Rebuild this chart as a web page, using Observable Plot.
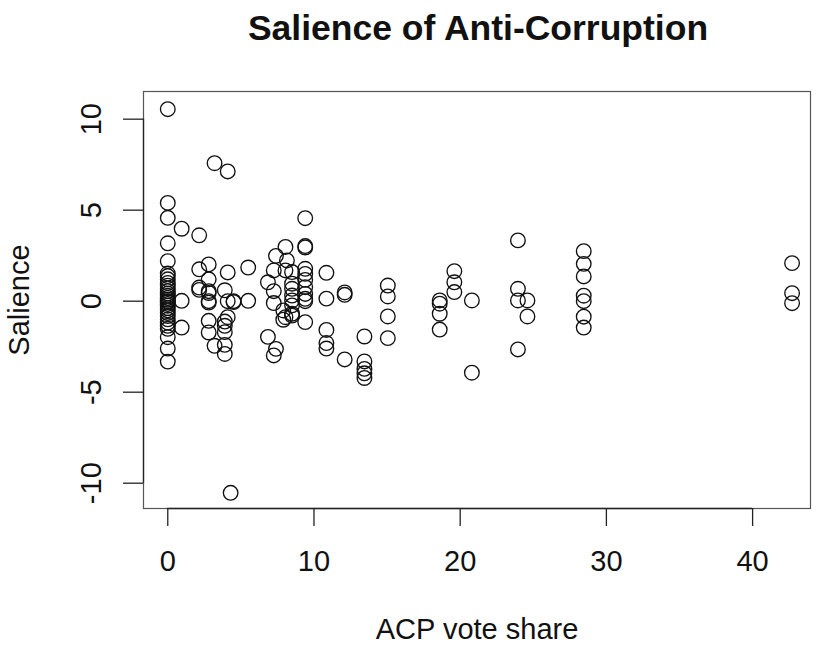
<!DOCTYPE html>
<html>
<head>
<meta charset="utf-8">
<script src="https://cdn.jsdelivr.net/npm/d3@7"></script>
<script src="https://cdn.jsdelivr.net/npm/@observablehq/plot@0.6"></script>
<style>
  html, body { margin: 0; padding: 0; background: #fff; }
  #wrap { width: 819px; height: 646px; position: relative; font-family: "Liberation Sans", Arial, Helvetica, sans-serif; }
  #title { position: absolute; left: 0; top: 10px; width: 819px; padding-left: 137px; box-sizing: border-box; text-align: center;
           font-size: 35.5px; line-height: 36px; font-weight: bold; color: #111; }
  #chart { position: absolute; left: 0; top: 60px; }
  #chart svg { overflow: visible; }
</style>
</head>
<body>
<div id="wrap">
  <div id="title">Salience of Anti-Corruption</div>
  <div id="chart"></div>
</div>
<script>
// ---- data ----
const titleText = "Salience of Anti-Corruption";
const xLabel = "ACP vote share";
const yLabel = "Salience";
const xTicks = [0, 10, 20, 30, 40];
const yTicks = [-10, -5, 0, 5, 10];

// vote share groups and the salience values observed at each
const voteShare = [
  0, 0, 0, 0, 0, 0, 0, 0, 0, 0, 0, 0, 0, 0, 0, 0, 0, 0, 0, 0, 0, 0, 0, 0, 0, 0, 0, 0, 0, 0, 0,
  0.95, 0.95, 0.95,
  2.15, 2.15, 2.15, 2.15,
  2.8, 2.8, 2.8, 2.8, 2.8, 2.8, 2.8, 2.8,
  3.2, 3.2,
  3.9, 3.9, 3.9, 3.9, 3.9, 3.9,
  4.1, 4.1, 4.1, 4.1,
  4.3,
  4.5, 4.5,
  5.5, 5.5,
  6.85, 6.85,
  7.25, 7.25, 7.25, 7.25,
  7.4, 7.4,
  7.9, 7.9,
  8.05, 8.05, 8.05,
  8.15,
  8.5, 8.5, 8.5, 8.5, 8.5, 8.5, 8.5, 8.5,
  9.4, 9.4, 9.4, 9.4, 9.4, 9.4, 9.4, 9.4, 9.4, 9.4, 9.4,
  10.85, 10.85, 10.85, 10.85, 10.85,
  12.1, 12.1, 12.1,
  13.45, 13.45, 13.45, 13.45, 13.45,
  15.05, 15.05, 15.05, 15.05,
  18.6, 18.6, 18.6, 18.6,
  19.6, 19.6, 19.6,
  20.8, 20.8,
  23.95, 23.95, 23.95, 23.95,
  24.6, 24.6,
  28.45, 28.45, 28.45, 28.45, 28.45, 28.45, 28.45,
  42.7, 42.7, 42.7
];
const salience = [
  10.55, 5.4, 4.58, 3.18, 2.2, 1.52, 1.38, 1.2, 1.0, 0.85, 0.7, 0.55, 0.42, 0.3, 0.18, 0.08, 0.0, -0.05, -0.15, -0.25, -0.38, -0.5, -0.65, -0.82, -1.0, -1.18, -1.35, -1.52, -1.98, -2.6, -3.32,
  3.98, 0.02, -1.45,
  3.62, 1.75, 0.75, 0.62,
  2.02, 1.2, 0.55, 0.45, 0.0, -0.08, -1.08, -1.72,
  7.58, -2.45,
  0.6, -1.12, -1.35, -1.7, -2.4, -2.9,
  7.13, 1.58, 0.0, -0.88,
  -10.53,
  0.0, -0.05,
  1.85, 0.02,
  1.04, -1.96,
  1.69, 0.55, -0.1, -2.98,
  2.49, -2.62,
  -0.51, -1.02,
  2.98, 1.69, -0.88,
  2.24,
  1.6, 0.96, 0.68, 0.31, 0.04, -0.23, -0.69, -0.79,
  4.56, 3.03, 2.95, 1.78, 1.5, 1.17, 0.77, 0.4, 0.13, 0.0, -1.15,
  1.56, 0.14, -1.58, -2.3, -2.6,
  0.48, 0.35, -3.2,
  -1.94, -3.31, -3.72, -3.96, -4.22,
  0.86, 0.26, -0.84, -2.03,
  0.04, -0.14, -0.69, -1.56,
  1.65, 1.04, 0.5,
  0.04, -3.93,
  3.34, 0.68, 0.04, -2.65,
  0.04, -0.84,
  2.75, 2.05, 1.36, 0.3, 0.0, -0.85, -1.45,
  2.09, 0.44, -0.11
];

const data = voteShare.map((v, i) => ({x: v, y: salience[i]}));
const xDomain = [-1.66, 43.96];
const yDomain = [-11.39, 11.52];

document.getElementById("title").textContent = titleText;

const plot = Plot.plot({
  width: 819,
  height: 586,
  marginLeft: 143,
  marginRight: 9,
  marginTop: 31,
  marginBottom: 138,
  style: {fontSize: "29px", fontFamily: "'Liberation Sans', Arial, Helvetica, sans-serif", color: "#111", background: "#fff"},
  x: {domain: xDomain, axis: null},
  y: {domain: yDomain, axis: null},
  marks: [
    Plot.frame({stroke: "#555", strokeWidth: 1.2}),
    Plot.dot(data, {x: "x", y: "y", r: 7.3, stroke: "#111", strokeWidth: 1.35, fill: "none"}),
    // x axis
    Plot.ruleY([yDomain[0]], {x1: xTicks[0], x2: xTicks[xTicks.length - 1], stroke: "#222", strokeWidth: 1.3}),
    Plot.axisX({ticks: xTicks, tickSize: 18, tickPadding: 24, label: null, stroke: "#222", strokeWidth: 1.3, fill: "#111"}),
    Plot.text([xLabel], {frameAnchor: "bottom", lineAnchor: "top", dy: 110, fill: "#111"}),
    // y axis
    Plot.ruleX([xDomain[0]], {y1: yTicks[0], y2: yTicks[yTicks.length - 1], stroke: "#222", strokeWidth: 1.3}),
    Plot.axisY({ticks: yTicks, tickSize: 20, tickFormat: () => "", label: null, stroke: "#222", strokeWidth: 1.3}),
    Plot.text(yTicks, {y: d => d, text: d => String(d), frameAnchor: "left", rotate: -90, lineAnchor: "top", textAnchor: "middle", dx: -63, fill: "#111"}),
    Plot.text([yLabel], {frameAnchor: "left", rotate: -90, lineAnchor: "top", textAnchor: "middle", dx: -135, fill: "#111"})
  ]
});
document.getElementById("chart").appendChild(plot);
</script>
</body>
</html>
